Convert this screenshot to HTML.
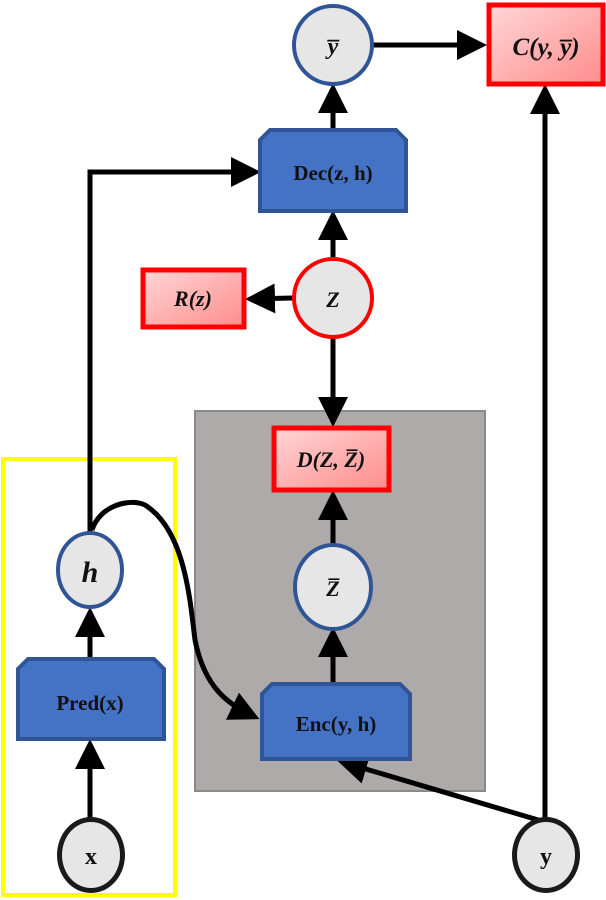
<!DOCTYPE html>
<html><head><style>body{margin:0;background:#fff}svg{display:block}text{font-family:"Liberation Serif",serif;font-weight:bold;fill:#111}</style></head>
<body>
<svg width="606" height="900" viewBox="0 0 606 900" xmlns="http://www.w3.org/2000/svg">
<defs>
<marker id="a" markerWidth="6" markerHeight="6" refX="5" refY="3" orient="auto" markerUnits="strokeWidth"><path d="M0,0 L6,3 L0,6 z" fill="#000"/></marker>
<linearGradient id="r" x1="0" y1="0" x2="1" y2="1"><stop offset="0" stop-color="#ffd6d6"/><stop offset="1" stop-color="#ff8c8c"/></linearGradient>
</defs>
<rect x="195" y="411" width="290" height="380" fill="#aeaaaa" stroke="#8a8a8a" stroke-width="2"/>
<rect x="3" y="459" width="172" height="436" fill="none" stroke="#ffff00" stroke-width="4"/>
<g stroke="#000" stroke-width="5" fill="none">
<line x1="373" y1="45" x2="482" y2="45" marker-end="url(#a)"/>
<line x1="333" y1="130" x2="333" y2="88" marker-end="url(#a)"/>
<line x1="333" y1="258" x2="333" y2="215" marker-end="url(#a)"/>
<line x1="293" y1="298" x2="250" y2="299" marker-end="url(#a)"/>
<line x1="333" y1="338" x2="333" y2="422" marker-end="url(#a)"/>
<line x1="333" y1="545" x2="333" y2="495" marker-end="url(#a)"/>
<line x1="333" y1="683" x2="333" y2="632" marker-end="url(#a)"/>
<line x1="545" y1="820" x2="545" y2="89" marker-end="url(#a)"/>
<polyline points="90,533 90,172 256,172" marker-end="url(#a)"/>
<line x1="90" y1="657" x2="90" y2="612" marker-end="url(#a)"/>
<line x1="90" y1="820" x2="90" y2="744" marker-end="url(#a)"/>
<line x1="545" y1="822" x2="342" y2="762" marker-end="url(#a)"/>
<path d="M92,530 C100,505 130,498 145,505 C185,530 190,600 195,640 C205,690 230,705 255,717" marker-end="url(#a)"/>
</g>
<circle cx="333" cy="45" r="39" fill="#e6e6e6" stroke="#2f5597" stroke-width="4"/>
<rect x="489" y="5" width="114" height="79" fill="url(#r)" stroke="#ff0000" stroke-width="5"/>
<path d="M270,130 H396 L406,140 V211 H260 V140 Z" fill="#4472c4" stroke="#2f5597" stroke-width="4"/>
<circle cx="333" cy="298" r="39" fill="#e6e6e6" stroke="#ff0000" stroke-width="4"/>
<rect x="143" y="270" width="101" height="57" fill="url(#r)" stroke="#ff0000" stroke-width="5"/>
<rect x="274" y="428" width="115" height="62" fill="url(#r)" stroke="#ff0000" stroke-width="5"/>
<ellipse cx="333" cy="587" rx="38" ry="42" fill="#e6e6e6" stroke="#2f5597" stroke-width="4"/>
<path d="M272,684 H400 L410,694 V759 H262 V694 Z" fill="#4472c4" stroke="#2f5597" stroke-width="4"/>
<ellipse cx="90" cy="570" rx="32" ry="37" fill="#e6e6e6" stroke="#2f5597" stroke-width="4"/>
<path d="M28,659 H154 L164,669 V739 H18 V669 Z" fill="#4472c4" stroke="#2f5597" stroke-width="4"/>
<ellipse cx="91" cy="855" rx="34" ry="38" fill="#1a1a1a"/>
<ellipse cx="91" cy="855" rx="29" ry="33" fill="#e6e6e6"/>
<ellipse cx="546" cy="855" rx="34" ry="38" fill="#1a1a1a"/>
<ellipse cx="546" cy="855" rx="29" ry="33" fill="#e6e6e6"/>
<text x="333" y="54" font-size="24" font-style="italic" text-anchor="middle">y̅</text>
<text x="546" y="55" font-size="25" font-style="italic" text-anchor="middle">C(y, y̅)</text>
<text x="333" y="180" font-size="21" text-anchor="middle">Dec(z, h)</text>
<text x="333" y="307" font-size="22" font-style="italic" text-anchor="middle">Z</text>
<text x="193" y="306" font-size="22" font-style="italic" text-anchor="middle">R(z)</text>
<text x="331" y="467" font-size="22" font-style="italic" text-anchor="middle">D(Z, Z̅)</text>
<text x="333" y="596" font-size="22" font-style="italic" text-anchor="middle">Z̅</text>
<text x="336" y="731" font-size="21" text-anchor="middle">Enc(y, h)</text>
<text x="90" y="582" font-size="30" font-style="italic" text-anchor="middle">h</text>
<text x="90" y="710" font-size="21" text-anchor="middle">Pred(x)</text>
<text x="91" y="864" font-size="24" text-anchor="middle">x</text>
<text x="546" y="864" font-size="24" text-anchor="middle">y</text>
</svg>
</body></html>
